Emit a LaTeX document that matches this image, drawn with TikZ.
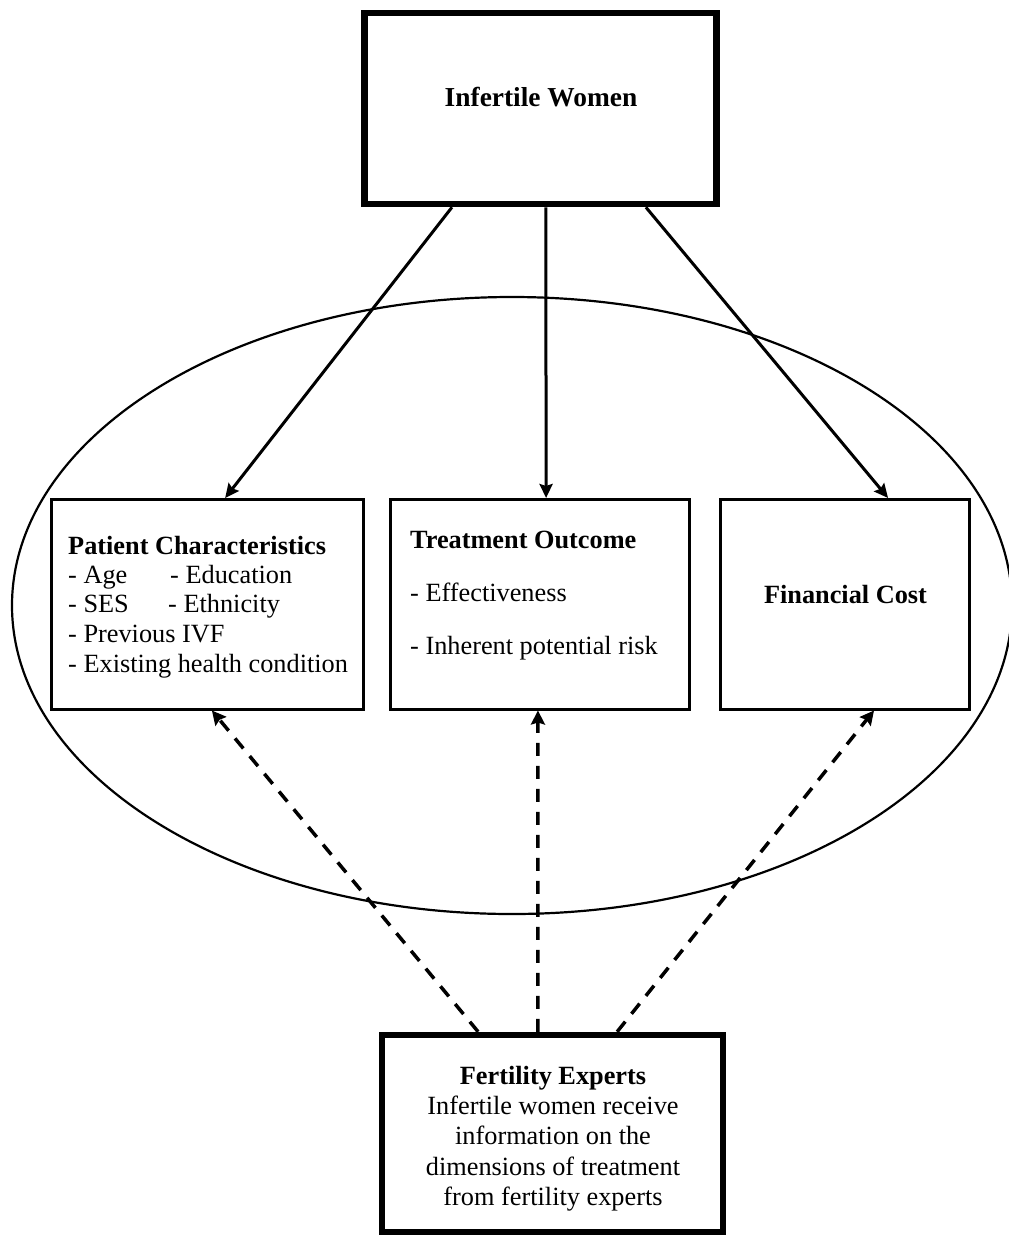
\documentclass[tikz,border=0pt]{standalone}
\usepackage{fontspec}
\setmainfont{Liberation Serif}
\usetikzlibrary{arrows.meta,shapes.geometric,calc}
\newcommand\dfont{\fontsize{26.3}{30}\selectfont}
\newcommand\bigdfont{\fontsize{27.4}{31}\selectfont}
\begin{document}
\begin{tikzpicture}[x=1pt,y=-1pt,
  thickbox/.style={draw, line width=6.5pt, inner sep=0pt, fill=white},
  thinbox/.style={draw, line width=3pt, inner sep=0pt, fill=white},
  lbl/.style={inner sep=0pt, font=\dfont},
  solidarrow/.style={line width=3pt, -{Stealth[length=14pt,width=13pt,inset=2pt]}},
  dasharrow/.style={line width=3.5pt, dash pattern=on 13pt off 10pt, -{Stealth[length=14pt,width=14pt,inset=2pt]}}]
\useasboundingbox (0,0) rectangle (1009,1235);
% ellipse
\node[ellipse, draw, line width=2.2pt, minimum width=1000pt, minimum height=617pt, inner sep=0pt] (ring) at (512,605.5) {};
% boxes
\node[thickbox, minimum width=352pt, minimum height=191pt] (top) at (540.5,108.5) {};
\node[thickbox, minimum width=341pt, minimum height=197pt] (bot) at (552.5,1133.5) {};
\node[thinbox, minimum width=312pt, minimum height=209.5pt] (pc) at (207.5,604.25) {};
\node[thinbox, minimum width=298.5pt, minimum height=209.5pt] (to) at (539.75,604.25) {};
\node[thinbox, minimum width=249pt, minimum height=209.5pt] (fc) at (845,604.25) {};
% texts
\node[lbl, anchor=base, font=\bigdfont] (tw) at (541,106) {\bfseries Infertile Women};
\node[lbl, anchor=base west] (pc0) at (68,554) {\bfseries Patient Characteristics};
\node[lbl, anchor=base west] (pc1) at (68,583) {- Age};
\node[lbl, anchor=base west] (pc1b) at (170,583) {- Education};
\node[lbl, anchor=base west] (pc2) at (68,612.5) {- SES};
\node[lbl, anchor=base west] (pc2b) at (168,612.5) {- Ethnicity};
\node[lbl, anchor=base west] (pc3) at (68,642) {- Previous IVF};
\node[lbl, anchor=base west] (pc4) at (68,672) {- Existing health condition};
\node[lbl, anchor=base west] (to0) at (410,548.5) {\bfseries Treatment Outcome};
\node[lbl, anchor=base west] (to1) at (410,601.5) {- Effectiveness};
\node[lbl, anchor=base west] (to2) at (410,654) {- Inherent potential risk};
\node[lbl, anchor=base] (fc0) at (845.5,603) {\bfseries Financial Cost};
\node[lbl, anchor=base] (fe0) at (553,1084) {\bfseries Fertility Experts};
\node[lbl, anchor=base] (fe1) at (553,1114) {Infertile women receive};
\node[lbl, anchor=base] (fe2) at (553,1144) {information on the};
\node[lbl, anchor=base] (fe3) at (553,1175) {dimensions of treatment};
\node[lbl, anchor=base] (fe4) at (553,1205) {from fertility experts};
% solid arrows
\draw[solidarrow] ($(top.south west)!0.253!(top.south east)$) -- ($(pc.north west)!0.556!(pc.north east)$);
\draw[solidarrow] ($(top.south west)!0.515!(top.south east)$) -- ($(to.north west)!0.521!(to.north east)$);
\draw[solidarrow] ($(top.south west)!0.794!(top.south east)$) -- ($(fc.north west)!0.671!(fc.north east)$);
% dashed arrows
\draw[dasharrow] ($(bot.north west)!0.286!(bot.north east)$) -- ($(pc.south west)!0.514!(pc.south east)$);
\draw[dasharrow] ($(bot.north west)!0.458!(bot.north east)$) -- ($(to.south west)!0.494!(to.south east)$);
\draw[dasharrow] ($(bot.north west)!0.686!(bot.north east)$) -- ($(fc.south west)!0.615!(fc.south east)$);
\end{tikzpicture}
\end{document}
